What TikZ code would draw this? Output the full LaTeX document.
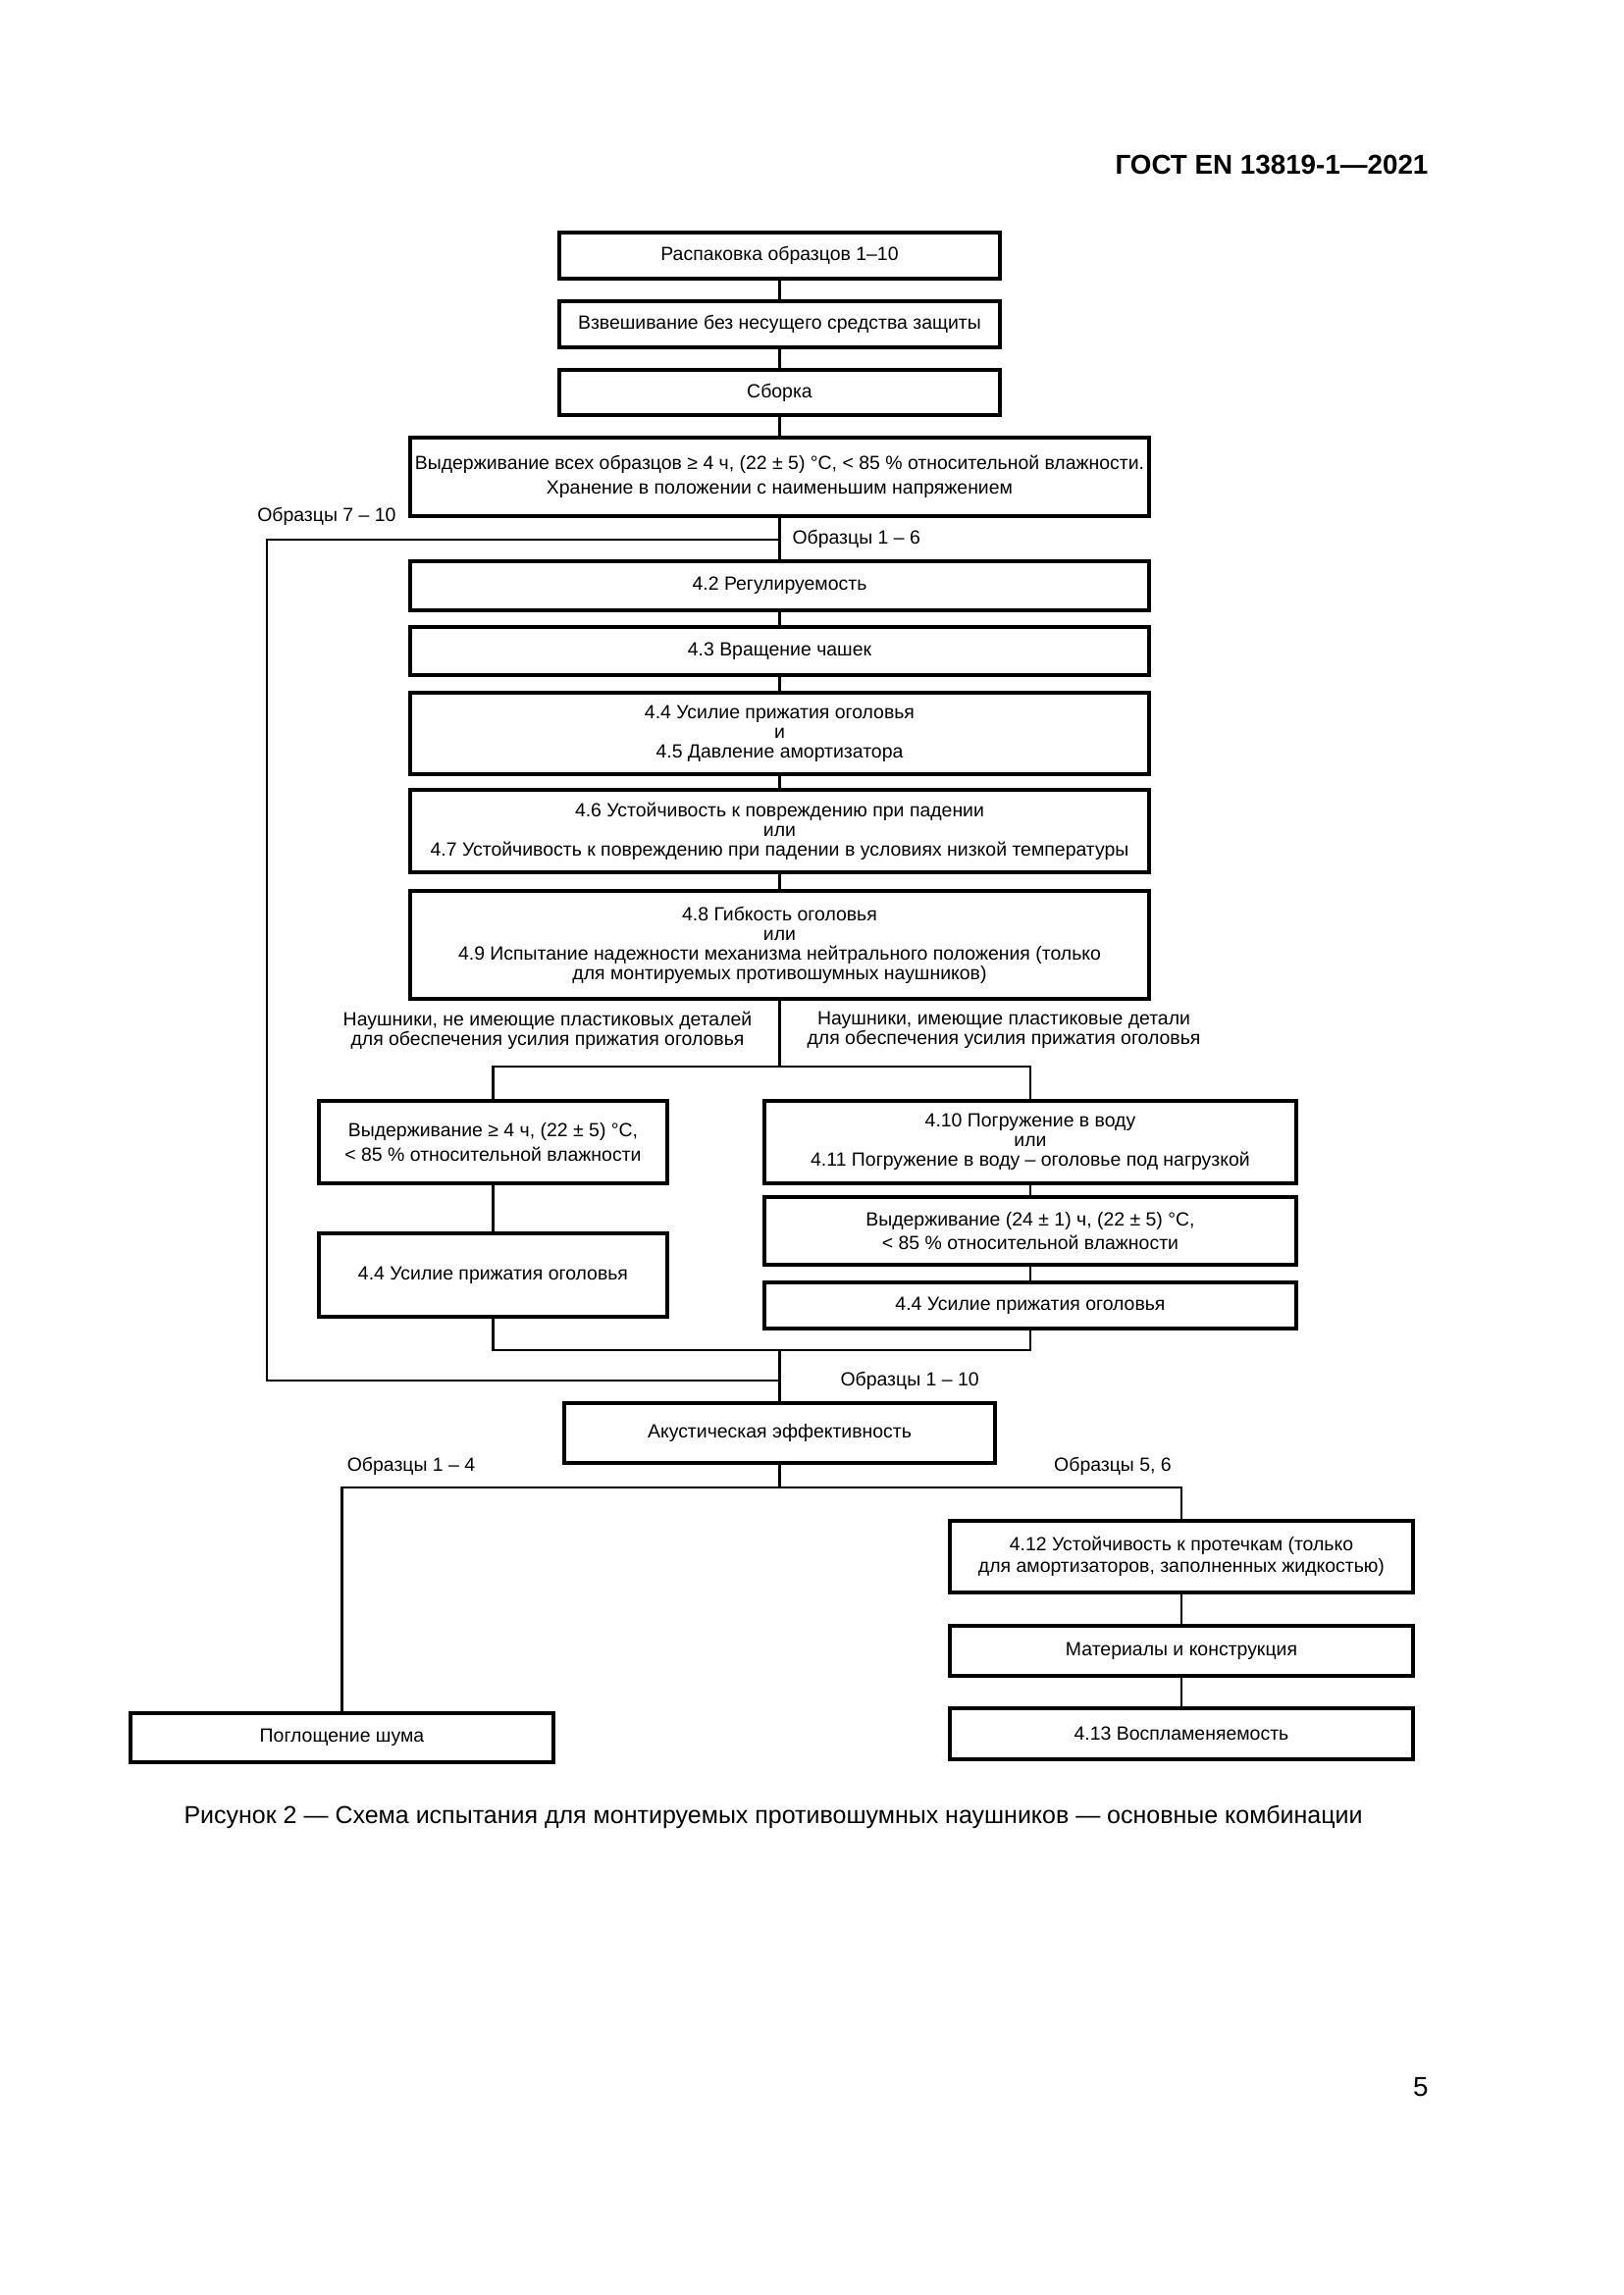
\documentclass[tikz,border=0pt]{standalone}
\usepackage{fontspec}
\setmainfont{Liberation Sans}
\newcommand\boxfnt{\fontsize{7}{7.2}\selectfont}
\newcommand\twofnt{\fontsize{7}{8.9}\selectfont}
\newcommand\capfnt{\fontsize{9}{11}\selectfont}
\begin{document}
\begin{tikzpicture}[x=0.36pt,y=-0.36pt,
  box/.style={draw, line width=1.1pt, align=center, inner sep=0pt, font=\boxfnt},
  wh/.style 2 args={minimum width=#1*0.36pt, minimum height=#2*0.36pt},
  lbl/.style={inner sep=0pt, align=center, font=\boxfnt},
  con/.style={line width=1pt}]
\fill[white] (0,0) rectangle (1654,2339);
\useasboundingbox (0,0) rectangle (1654,2339);

% header and page number
\node[inner sep=0pt, anchor=base east, font=\fontsize{10}{12}\selectfont\bfseries] (hdr) at (1456,177) {ГОСТ EN 13819-1—2021};
\node[inner sep=0pt, anchor=base east, font=\fontsize{10}{12}\selectfont] (pg) at (1456,2136) {5};

% top chain
\node[box, wh={449}{47}] (b1) at (794.5,260.5) {Распаковка образцов 1–10};
\node[box, wh={449}{47}] (b2) at (794.5,330.5) {Взвешивание без несущего средства защиты};
\node[box, wh={449}{46}] (b3) at (794.5,400) {Сборка};
\node[box, wh={753}{80}, font=\twofnt] (b4) at (794.5,486) {Выдерживание всех образцов ≥ 4 ч, (22 ± 5) °C, < 85 \% относительной влажности.\\Хранение в положении с наименьшим напряжением};
\node[box, wh={753}{50}] (b5) at (794.5,597) {4.2 Регулируемость};
\node[box, wh={753}{49}] (b6) at (794.5,663.5) {4.3 Вращение чашек};
\node[box, wh={753}{83}] (b7) at (794.5,747.5) {4.4 Усилие прижатия оголовья\\и\\4.5 Давление амортизатора};
\node[box, wh={753}{84}] (b8) at (794.5,847) {4.6 Устойчивость к повреждению при падении\\или\\4.7 Устойчивость к повреждению при падении в условиях низкой температуры};
\node[box, wh={753}{110}] (b9) at (794.5,963) {4.8 Гибкость оголовья\\или\\4.9 Испытание надежности механизма нейтрального положения (только\\для монтируемых противошумных наушников)};

% branches
\node[box, wh={355}{84}, font=\twofnt] (l1) at (502.5,1164) {Выдерживание ≥ 4 ч, (22 ± 5) °C,\\< 85 \% относительной влажности};
\node[box, wh={355}{85}] (l2) at (502.5,1299.5) {4.4 Усилие прижатия оголовья};
\node[box, wh={542}{84}] (r1) at (1050,1164) {4.10 Погружение в воду\\или\\4.11 Погружение в воду – оголовье под нагрузкой};
\node[box, wh={542}{69}, font=\twofnt] (r2) at (1050,1254.5) {Выдерживание (24 ± 1) ч, (22 ± 5) °C,\\< 85 \% относительной влажности};
\node[box, wh={542}{47}] (r3) at (1050,1330.5) {4.4 Усилие прижатия оголовья};

\node[box, wh={439}{61}] (ac) at (794.5,1460.5) {Акустическая эффективность};
\node[box, wh={431}{50}] (nz) at (348.5,1771) {Поглощение шума};
\node[box, wh={472}{73}, font=\fontsize{7}{8.1}\selectfont] (p1) at (1204,1586.5) {4.12 Устойчивость к протечкам (только\\для амортизаторов, заполненных жидкостью)};
\node[box, wh={472}{51}] (p2) at (1204,1682.5) {Материалы и конструкция};
\node[box, wh={472}{52}] (p3) at (1204,1767) {4.13 Воспламеняемость};

% labels
\node[lbl, anchor=east] (s710) at (404,526) {Образцы 7 – 10};
\node[lbl, anchor=west] (s16) at (807,549) {Образцы 1 – 6};
\node[lbl, anchor=west] (s110) at (856,1407) {Образцы 1 – 10};
\node[lbl] (s14) at (419,1494) {Образцы 1 – 4};
\node[lbl] (s56) at (1134,1494) {Образцы 5, 6};
\node[lbl] (hl) at (558,1050) {Наушники, не имеющие пластиковых деталей\\для обеспечения усилия прижатия оголовья};
\node[lbl] (hr) at (1023,1050) {Наушники, имеющие пластиковые детали\\для обеспечения усилия прижатия оголовья};

% caption
\node[inner sep=0pt, font=\capfnt] (cap) at (788,1852) {Рисунок 2 — Схема испытания для монтируемых противошумных наушников — основные комбинации};

% junction coordinates
\coordinate (j1) at (794.5,550);
\coordinate (j1l) at (272,550);
\coordinate (j2) at (794.5,1087);
\coordinate (j2l) at (502.5,1087);
\coordinate (j2r) at (1050,1087);
\coordinate (j3) at (794.5,1376);
\coordinate (j3l) at (502.5,1376);
\coordinate (j3r) at (1050,1376);
\coordinate (j4) at (794.5,1407);
\coordinate (j4l) at (272,1407);
\coordinate (j5) at (794.5,1516);
\coordinate (j5l) at (348.5,1516);
\coordinate (j5r) at (1204,1516);

% connectors
\draw[con] (b1) -- (b2);
\draw[con] (b2) -- (b3);
\draw[con] (b3) -- (b4);
\draw[con] (b4) -- (b5);
\draw[con] (j1) -- (j1l) -- (j4l) -- (j4);
\draw[con] (b5) -- (b6);
\draw[con] (b6) -- (b7);
\draw[con] (b7) -- (b8);
\draw[con] (b8) -- (b9);
\draw[con] (b9) -- (j2);
\draw[con] (l1.north) -- (j2l) -- (j2r) -- (r1.north);
\draw[con] (l1) -- (l2);
\draw[con] (r1) -- (r2);
\draw[con] (r2) -- (r3);
\draw[con] (l2.south) -- (j3l) -- (j3r) -- (r3.south);
\draw[con] (j3) -- (ac.north);
\draw[con] (ac.south) -- (j5);
\draw[con] (nz.north) -- (j5l) -- (j5r) -- (p1.north);
\draw[con] (p1) -- (p2);
\draw[con] (p2) -- (p3);
\end{tikzpicture}
\end{document}
